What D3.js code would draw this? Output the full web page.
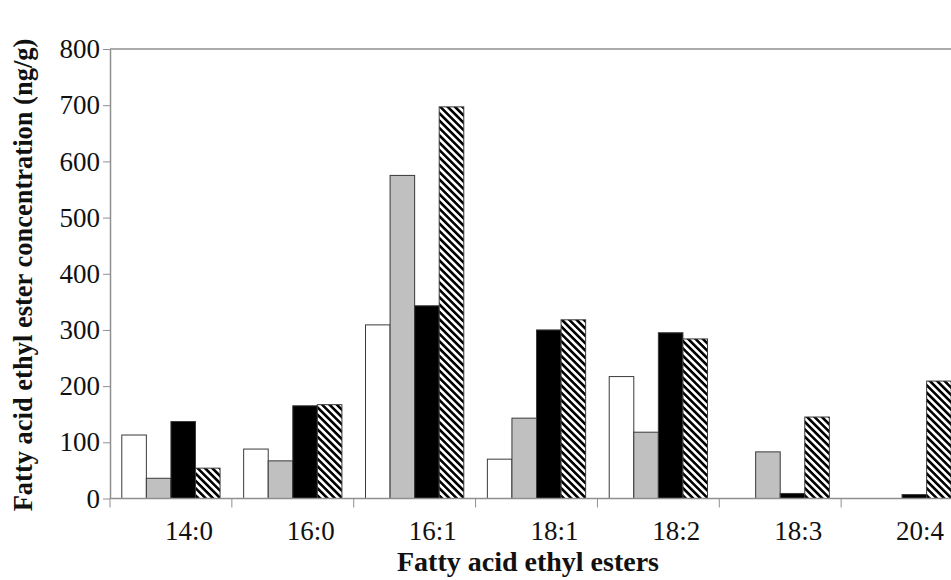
<!DOCTYPE html>
<html>
<head>
<meta charset="utf-8">
<script src="https://cdn.jsdelivr.net/npm/d3@7"></script>
<style>
  body { margin: 0; background: #fff; }
  svg { display: block; font-family: "Liberation Serif", "DejaVu Serif", serif; }
</style>
</head>
<body>
<div id="chart"></div>
<script>
// Categories and series values (ng/g)
const categories = ["14:0", "16:0", "16:1", "18:1", "18:2", "18:3", "20:4"];
const seriesWhite = [113, 88, 309, 70, 217, 0, 0];
const seriesGray = [36, 67, 575, 143, 118, 83, 0];
const seriesBlack = [137, 165, 343, 300, 295, 9, 7];
const seriesHatch = [54, 167, 697, 318, 284, 145, 209];
const seriesNames = ["white", "gray", "black", "hatch"];
const yTicks = [0, 100, 200, 300, 400, 500, 600, 700, 800];

const width = 951;
const height = 580;
const margin = { top: 49, left: 110, bottom: 82 };
const plotRight = 963; // plot runs slightly past the picture edge

const allSeries = [seriesWhite, seriesGray, seriesBlack, seriesHatch];
const rows = categories.map((c, i) => ({
    cat: c,
    values: seriesNames.map((s, j) => ({ key: s, value: allSeries[j][i] }))
}));

const svg = d3.select("#chart")
    .append("svg")
    .attr("width", width)
    .attr("height", height);

// Diagonal hatch
const defs = svg.append("defs");
defs.append("pattern")
    .attr("id", "hatch")
    .attr("patternUnits", "userSpaceOnUse")
    .attr("width", 5.2)
    .attr("height", 5.2)
    .attr("patternTransform", "rotate(-45)")
    .call(p => {
        p.append("rect").attr("width", 5.2).attr("height", 5.2).attr("fill", "#fff");
        p.append("rect").attr("width", 2.6).attr("height", 5.2).attr("fill", "#000");
    });

const fills = { white: "#fff", gray: "#c0c0c0", black: "#000", hatch: "url(#hatch)" };

// Scales
const x0 = d3.scaleBand()
    .domain(categories)
    .range([margin.left, plotRight])
    .padding(0);

const x1 = d3.scaleBand()
    .domain(seriesNames)
    .range([0, x0.bandwidth()])
    .paddingInner(0)
    .paddingOuter(0.48);

const y = d3.scaleLinear()
    .domain([0, 800])
    .range([height - margin.bottom + 0.5, margin.top]);

const axisColor = "#8f8f8f";
const textColor = "#111";

// Top frame line
svg.append("line")
    .attr("x1", margin.left).attr("x2", width)
    .attr("y1", y(800)).attr("y2", y(800))
    .attr("stroke", axisColor).attr("stroke-width", 1.5);

// Bars
const groups = svg.selectAll(".grp")
    .data(rows)
    .enter()
    .append("g")
    .attr("class", "grp")
    .attr("transform", d => `translate(${x0(d.cat)},0)`);

groups.selectAll("rect")
    .data(d => d.values.filter(v => v.value > 0))
    .enter()
    .append("rect")
    .attr("x", d => x1(d.key))
    .attr("y", d => y(d.value))
    .attr("width", x1.bandwidth())
    .attr("height", d => y(0) - y(d.value))
    .attr("fill", d => fills[d.key])
    .attr("stroke", "#3a3a3a")
    .attr("stroke-width", 1);

// Y axis
const yAxis = svg.append("g")
    .attr("transform", `translate(${margin.left},0)`)
    .call(d3.axisLeft(y).tickValues(yTicks).tickSize(7).tickPadding(3).tickSizeOuter(0));

yAxis.select(".domain").attr("stroke", axisColor).attr("stroke-width", 1.5);
yAxis.selectAll(".tick line").attr("stroke", axisColor);
yAxis.selectAll(".tick text")
    .attr("fill", textColor)
    .style("font-size", "27px")
    .style("font-family", "Liberation Serif, serif");

// X axis: baseline, ticks at band edges
const xAxisG = svg.append("g");
xAxisG.append("line")
    .attr("x1", margin.left).attr("x2", width)
    .attr("y1", y(0)).attr("y2", y(0))
    .attr("stroke", axisColor).attr("stroke-width", 1.5);

xAxisG.selectAll(".xtick")
    .data(categories)
    .enter()
    .append("line")
    .attr("class", "xtick")
    .attr("x1", d => x0(d)).attr("x2", d => x0(d))
    .attr("y1", y(0)).attr("y2", y(0) + 9)
    .attr("stroke", axisColor);

xAxisG.selectAll(".xlabel")
    .data(categories)
    .enter()
    .append("text")
    .attr("class", "xlabel")
    .attr("x", d => x0(d) + x0.bandwidth() / 2 + 18)
    .attr("y", 540)
    .attr("text-anchor", "middle")
    .attr("fill", textColor)
    .style("font-size", "27px")
    .text(d => d);

// Axis titles
svg.append("text")
    .attr("x", 528)
    .attr("y", 571)
    .attr("text-anchor", "middle")
    .attr("fill", textColor)
    .style("font-size", "28px")
    .style("font-weight", "bold")
    .text("Fatty acid ethyl esters");

svg.append("text")
    .attr("transform", "rotate(-90)")
    .attr("x", -275)
    .attr("y", 32)
    .attr("text-anchor", "middle")
    .attr("fill", textColor)
    .style("font-size", "26.5px")
    .style("font-weight", "bold")
    .text("Fatty acid ethyl ester concentration (ng/g)");
</script>
</body>
</html>
